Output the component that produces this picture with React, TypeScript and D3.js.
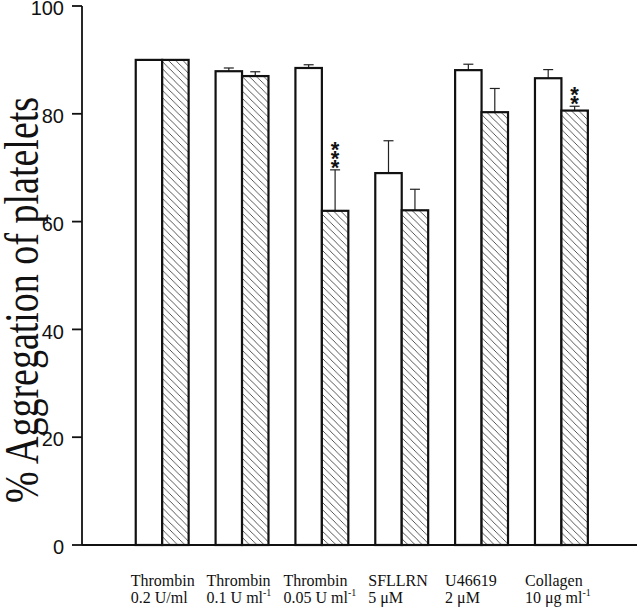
import React from "react";
import * as d3 from "d3";

const categories = ["Thrombin 0.2", "Thrombin 0.1", "Thrombin 0.05", "SFLLRN", "U46619", "Collagen"];
const labelLine1 = ["Thrombin", "Thrombin", "Thrombin", "SFLLRN", "U46619", "Collagen"];
const labelLine2Main = ["0.2 U/ml", "0.1 U ml", "0.05 U ml", "5 \u03bcM", "2 \u03bcM", "10 \u03bcg ml"];
const labelLine2Sup = ["", "-1", "-1", "", "", "-1"];
const controlValues = [90, 87.9, 88.5, 69.0, 88.1, 86.6];
const controlErrors = [0, 0.6, 0.6, 6.0, 1.1, 1.6];
const treatedValues = [90, 87.0, 62.0, 62.1, 80.3, 80.6];
const treatedErrors = [0, 0.8, 7.6, 3.9, 4.4, 0.8];
const treatedSignificance = ["", "", "***", "", "", "**"];
const yTicks = [0, 20, 40, 60, 80, 100];

const W = 640;
const H = 609;
const axisX = 82;
const y0 = 545;
const y100 = 6;
const labelShift = [-5, -9, -12, -7, -10, -10];

export default function App() {
  const y = d3.scaleLinear().domain([0, 100]).range([y0, y100]);
  const x = d3
    .scaleBand<string>()
    .domain(categories)
    .range([axisX, axisX + 7.0125 * 79.8])
    .paddingInner(0.3375)
    .paddingOuter(0.673);
  const sub = d3.scaleBand<string>().domain(["c", "t"]).range([0, x.bandwidth()]);
  const bw = sub.bandwidth();
  const s = 7.2;

  const series = [
    { key: "c", values: controlValues, errors: controlErrors, fill: "#fff" },
    { key: "t", values: treatedValues, errors: treatedErrors, fill: "url(#hatch)" },
  ];

  return (
    <svg width={W} height={H} style={{ position: "absolute", left: 0, top: 0, background: "#fff" }}>
      <defs>
        <pattern id="hatch" patternUnits="userSpaceOnUse" width={s} height={s}>
          <rect width={s} height={s} fill="#fff" />
          <path
            d={`M0,0 L${s},${s} M${-s / 2},${s / 2} L${s / 2},${s * 1.5} M${s / 2},${-s / 2} L${s * 1.5},${s / 2}`}
            stroke="#444"
            strokeWidth={0.9}
          />
        </pattern>
      </defs>
      <rect width={W} height={H} fill="#fff" />

      {series.map((ser) =>
        categories.map((c, i) => {
          const bx = (x(c) as number) + (sub(ser.key) as number);
          const v = ser.values[i];
          const e = ser.errors[i];
          const cx = bx + bw / 2;
          return (
            <g key={ser.key + c}>
              {e > 0 && (
                <g stroke="#222" strokeWidth={1.2}>
                  <line x1={cx} x2={cx} y1={y(v)} y2={y(v + e)} />
                  <line x1={cx - 5} x2={cx + 5} y1={y(v + e)} y2={y(v + e)} />
                </g>
              )}
              <rect
                x={bx}
                y={y(v)}
                width={bw}
                height={y(0) - y(v)}
                fill={ser.fill}
                stroke="#111"
                strokeWidth={2.2}
              />
            </g>
          );
        })
      )}

      {categories.map((c, i) => {
        const sig = treatedSignificance[i];
        if (!sig) return null;
        const cx = (x(c) as number) + (sub("t") as number) + bw / 2;
        const top = y(treatedValues[i] + treatedErrors[i]);
        const n = sig.length;
        const gap = 9;
        const firstCentre = top - 7 - (n - 1) * gap;
        return (
          <text
            key={"sig" + c}
            x={cx}
            y={firstCentre + 12}
            textAnchor="middle"
            fontFamily="Liberation Sans, Arial, sans-serif"
            fontWeight="bold"
            fontSize={22}
            fill="#111"
          >
            {sig.split("").map((st, k) => (
              <tspan key={k} x={cx} dy={k === 0 ? 0 : gap}>
                {st}
              </tspan>
            ))}
          </text>
        );
      })}

      {/* axes */}
      <line x1={axisX} x2={axisX} y1={y(100)} y2={y(0)} stroke="#111" strokeWidth={1.8} />
      <line x1={axisX} x2={637} y1={y(0)} y2={y(0)} stroke="#111" strokeWidth={1.8} />
      {yTicks.map((t) => (
        <g key={t}>
          <line x1={axisX - 10} x2={axisX} y1={y(t)} y2={y(t)} stroke="#111" strokeWidth={1.8} />
          <text
            x={64}
            y={y(t)}
            dy="0.46em"
            textAnchor="end"
            fontFamily="Liberation Sans, Arial, sans-serif"
            fontSize={20}
            fill="#111"
          >
            {t}
          </text>
        </g>
      ))}

      <text
        transform={`translate(38,300) rotate(-90) scale(1,1.3)`}
        textAnchor="middle"
        fontFamily="Liberation Serif, Times New Roman, serif"
        fontSize={38}
        fill="#111"
      >
        % Aggregation of platelets
      </text>

      {categories.map((c, i) => {
        const lx = (x(c) as number) + labelShift[i];
        return (
          <g key={"lab" + c} fontFamily="Liberation Serif, Times New Roman, serif" fontSize={16} fill="#111">
            <text x={lx} y={586}>
              {labelLine1[i]}
            </text>
            <text x={lx} y={603}>
              {labelLine2Main[i]}
              {labelLine2Sup[i] && (
                <tspan fontSize={10} dy={-7}>
                  {labelLine2Sup[i]}
                </tspan>
              )}
            </text>
          </g>
        );
      })}
    </svg>
  );
}
